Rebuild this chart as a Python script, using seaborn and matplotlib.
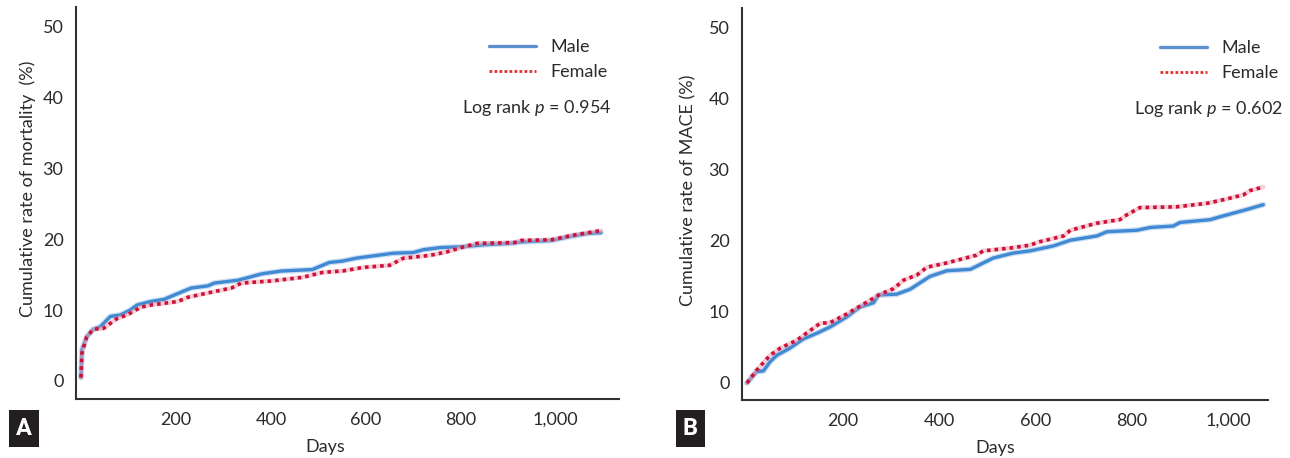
import matplotlib
matplotlib.use("Agg")
import matplotlib.pyplot as plt
import seaborn as sns
from matplotlib.lines import Line2D

# panel A: cumulative mortality (%)
a_male_days = [0, 2, 12, 26, 40, 62, 83, 104, 118, 147, 175, 196, 232, 267, 281, 331, 381,
               423, 487, 523, 551, 579, 657, 700, 721, 757, 799, 849, 906, 927, 991, 1033,
               1069, 1095]
a_male_vals = [0.5, 4.4, 6.2, 7.3, 7.6, 9.1, 9.3, 10.0, 10.7, 11.2, 11.5, 12.1, 13.1, 13.4,
               13.8, 14.2, 15.1, 15.5, 15.7, 16.7, 16.9, 17.3, 18.0, 18.1, 18.5, 18.8, 18.9,
               19.2, 19.4, 19.6, 19.8, 20.4, 20.8, 20.9]
a_female_days = [0, 2, 12, 26, 47, 76, 97, 126, 147, 204, 225, 274, 317, 338, 402, 466, 509,
                 551, 594, 650, 679, 735, 771, 806, 835, 913, 927, 991, 1033, 1069, 1095]
a_female_vals = [0.5, 3.9, 6.2, 7.3, 7.4, 8.8, 9.3, 10.4, 10.7, 11.2, 11.8, 12.5, 13.1, 13.8,
                 14.1, 14.6, 15.3, 15.5, 16.0, 16.3, 17.3, 17.7, 18.2, 18.9, 19.4, 19.5, 19.8,
                 19.9, 20.5, 20.9, 21.2]

# panel B: cumulative MACE (%)
b_male_days = [0, 20, 34, 48, 62, 89, 117, 145, 173, 207, 235, 263, 273, 311, 339, 380, 415,
               464, 512, 554, 588, 637, 672, 727, 748, 810, 838, 886, 900, 963, 983, 1032, 1073]
b_male_vals = [0, 1.6, 1.7, 3.0, 3.9, 4.9, 6.2, 7.0, 7.9, 9.3, 10.7, 11.3, 12.4, 12.5, 13.2,
               15.0, 15.8, 16.0, 17.6, 18.3, 18.6, 19.3, 20.1, 20.7, 21.3, 21.5, 21.9, 22.1,
               22.6, 23.0, 23.4, 24.3, 25.1]
b_female_days = [0, 20, 48, 69, 103, 152, 173, 207, 242, 277, 305, 326, 353, 374, 415, 477,
                 491, 547, 588, 609, 658, 672, 727, 775, 790, 817, 893, 956, 990, 1032, 1046,
                 1073]
b_female_vals = [0, 1.8, 3.9, 4.9, 6.0, 8.4, 8.5, 9.7, 11.1, 12.5, 13.3, 14.5, 15.2, 16.3,
                 16.9, 18.0, 18.6, 19.0, 19.4, 19.9, 20.7, 21.5, 22.5, 23.0, 23.7, 24.7, 24.8,
                 25.3, 25.8, 26.5, 27.1, 27.6]

y_ticks = [0, 10, 20, 30, 40, 50]
x_ticks = [200, 400, 600, 800, 1000]
x_ticklabels = ["200", "400", "600", "800", "1,000"]

sns.set_style("white")
plt.rcParams["font.family"] = ["Lato", "DejaVu Sans"]
plt.rcParams["mathtext.fontset"] = "custom"
plt.rcParams["mathtext.it"] = "Lato:italic"
plt.rcParams["mathtext.rm"] = "Lato"

TXT = "#2b2b2b"
BLUE = "#4189d3"
RED = "#cc1238"
FS = 13

fig = plt.figure(figsize=(12.9, 4.58), dpi=100)
ax_a = fig.add_axes([0.0589, 0.1288, 0.4209, 0.8559])
ax_b = fig.add_axes([0.5752, 0.1266, 0.4078, 0.8559])


def draw(ax, md, mv, fd, fv, ylabel, ptxt, xlim, ylim, leg_x, ylab_x, xlab_x):
    sns.lineplot(x=md, y=mv, ax=ax, color="#a9ccee", lw=4.2, alpha=0.6)
    sns.lineplot(x=md, y=mv, ax=ax, color=BLUE, lw=2.4)
    sns.lineplot(x=fd, y=fv, ax=ax, color="#f2a6b6", lw=3.2, alpha=0.55)
    sns.lineplot(x=fd, y=fv, ax=ax, color=RED, lw=2.6, linestyle=(0, (1, 1.1)))
    ax.set_xlim(*xlim)
    ax.set_ylim(*ylim)
    ax.set_yticks(y_ticks)
    ax.set_xticks(x_ticks)
    ax.set_xticklabels(x_ticklabels)
    ax.tick_params(axis="both", direction="out", length=7, width=1.3, colors="#333333",
                   labelcolor=TXT, labelsize=FS, pad=2)
    for s in ["top", "right"]:
        ax.spines[s].set_visible(False)
    for s in ["left", "bottom"]:
        ax.spines[s].set_color("#333333")
        ax.spines[s].set_linewidth(1.5)
    ax.set_ylabel(ylabel, fontsize=FS, color=TXT)
    ax.set_xlabel("Days", fontsize=FS, color=TXT)
    ax.yaxis.set_label_coords(ylab_x, 0.535)
    ax.xaxis.set_label_coords(xlab_x, -0.103)
    handles = [Line2D([], [], color="#5b8fd0", lw=2.4),
               Line2D([], [], color="#e03030", lw=2.0, linestyle=(0, (1, 0.8)))]
    ax.legend(handles, ["Male", "Female"], loc="upper left", bbox_to_anchor=(leg_x, 0.918),
              frameon=False, fontsize=FS, handlelength=2.6, handletextpad=0.8,
              labelspacing=0.5, borderpad=0, borderaxespad=0, labelcolor=TXT)
    ax.text(leg_x - 0.05, 0.742, ptxt, transform=ax.transAxes, fontsize=FS, color=TXT,
            va="center", ha="left")


draw(ax_a, a_male_days, a_male_vals, a_female_days, a_female_vals,
     "Cumulative rate of mortality  (%)", "Log rank $\\it{p}$ = 0.954",
     (-10.5, 1133), (-2.54, 52.7), 0.7606, -0.074, 0.459)
draw(ax_b, b_male_days, b_male_vals, b_female_days, b_female_vals,
     "Cumulative rate of MACE (%)", "Log rank $\\it{p}$ = 0.602",
     (-10.4, 1083), (-2.4, 52.8), 0.795, -0.087, 0.481)

for x, lab in [(0.0186, "A"), (0.535, "B")]:
    fig.text(x, 0.065, lab, fontsize=17, fontweight="bold", color="white", ha="center",
             va="center", family=["Roboto", "DejaVu Sans"],
             bbox=dict(boxstyle="square,pad=0.3", facecolor="#231f20", edgecolor="none"))

fig.savefig("out.png", dpi=100)
